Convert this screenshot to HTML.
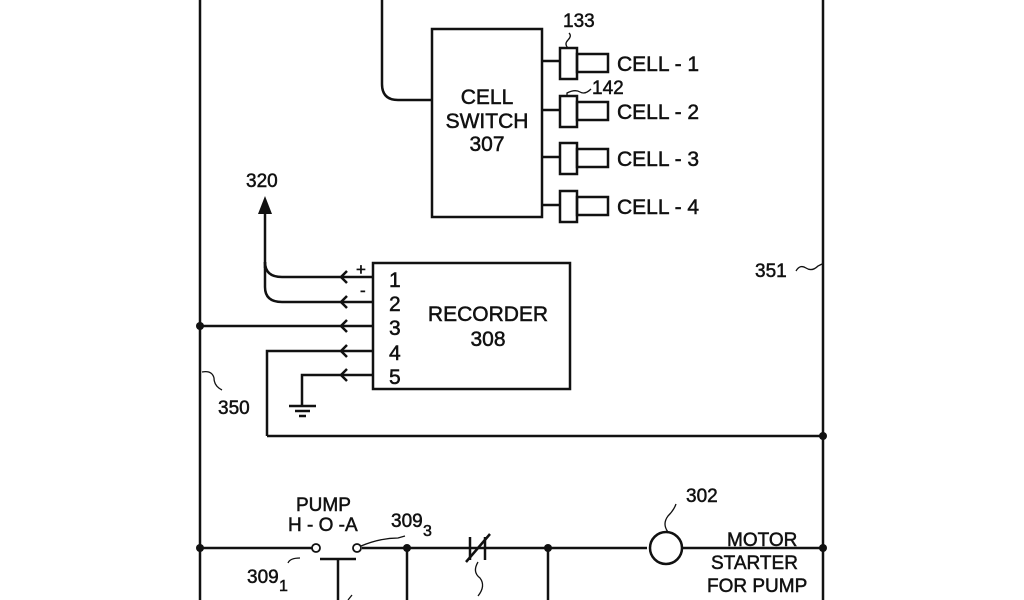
<!DOCTYPE html>
<html><head><meta charset="utf-8"><style>
html,body{margin:0;padding:0;background:#fff;}
svg{display:block;}
text{font-family:"Liberation Sans",Arial,sans-serif;fill:#111;stroke:#111;stroke-width:0.5;}
</style></head><body>
<svg width="1024" height="600" viewBox="0 0 1024 600" xmlns="http://www.w3.org/2000/svg">
<g stroke="#111" stroke-width="2.5" fill="none" stroke-linecap="butt">
<line x1="200" y1="0" x2="200" y2="600"/>
<line x1="823" y1="0" x2="823" y2="600"/>
<path d="M382 0 V84 Q382 100 398 100 H432"/>
<rect x="432" y="29" width="110" height="188"/>
<g>
<line x1="542" y1="61" x2="560" y2="61"/><rect x="560" y="48" width="17" height="31"/><rect x="577" y="54" width="31" height="18"/>
<line x1="542" y1="110" x2="560" y2="110"/><rect x="560" y="96" width="17" height="31"/><rect x="577" y="102" width="31" height="18"/>
<line x1="542" y1="157" x2="560" y2="157"/><rect x="560" y="143" width="17" height="31"/><rect x="577" y="149" width="31" height="18"/>
<line x1="542" y1="205" x2="560" y2="205"/><rect x="560" y="191" width="17" height="31"/><rect x="577" y="197" width="31" height="18"/>
</g>
<path d="M568 48 Q564 44 568 40 Q572 36 569 33" stroke-width="1.3"/>
<path d="M567 97 V93 Q575 89 580 92 Q585 95 591 89" stroke-width="1.3"/>
<line x1="265" y1="212" x2="265" y2="268"/>
<path d="M265 262 Q265 277 282 277 H352"/>
<path d="M265 262 V287 Q265 302 282 302 H352"/>
<rect x="373" y="263" width="197" height="126"/>
<line x1="352" y1="277" x2="373" y2="277"/>
<line x1="352" y1="302" x2="373" y2="302"/>
<line x1="200" y1="326" x2="373" y2="326"/>
<path d="M267 436 V351 H373"/>
<path d="M302 406 V375 H373"/>
<path d="M347 271 L341 277 L347 283 M347 296 L341 302 L347 308 M347 320 L341 326 L347 332 M347 345 L341 351 L347 357 M347 369 L341 375 L347 381"/>
<line x1="289" y1="406" x2="316" y2="406"/>
<line x1="295" y1="411" x2="310" y2="411"/>
<line x1="299" y1="416" x2="306" y2="416"/>
<line x1="267" y1="436" x2="823" y2="436"/>
<path d="M202 372 Q212 370 214 378 Q214 386 222 390" stroke-width="1.3"/>
<path d="M796 271 Q800 264 806 268 Q812 272 818 266 L822 264" stroke-width="1.3"/>
<line x1="200" y1="548" x2="312" y2="548"/>
<line x1="362" y1="548" x2="647" y2="548"/>
<line x1="681" y1="548" x2="823" y2="548"/>
<circle cx="316" cy="548" r="4" stroke-width="1.8"/>
<circle cx="357" cy="548" r="4" stroke-width="1.8"/>
<path d="M361 546 Q380 538 398 538 L405 536" stroke-width="1.3"/>
<path d="M300 558 Q290 558 288 563" stroke-width="1.3"/>
<line x1="320" y1="559" x2="356" y2="559"/>
<line x1="338" y1="559" x2="338" y2="600"/>
<path d="M348 600 L352 595" stroke-width="1.3"/>
<line x1="407" y1="548" x2="407" y2="600"/>
<line x1="548" y1="548" x2="548" y2="600"/>
<line x1="470" y1="537" x2="470" y2="560"/>
<line x1="485" y1="537" x2="485" y2="560"/>
<line x1="466" y1="562" x2="490" y2="534"/>
<path d="M478 562 Q472 572 480 578 Q486 586 478 596" stroke-width="1.3"/>
<circle cx="666" cy="548" r="16"/>
<path d="M668 532 Q662 524 668 516 Q674 510 676 504" stroke-width="1.3"/>
</g>
<polygon points="265,196 258,214 272,214" fill="#111"/>
<g fill="#111">
<circle cx="200" cy="326" r="4"/>
<circle cx="823" cy="436" r="4"/>
<circle cx="200" cy="548" r="4"/>
<circle cx="407" cy="548" r="4"/>
<circle cx="548" cy="548" r="4"/>
<circle cx="823" cy="548" r="4"/>
</g>
<g font-size="21">
<text x="487" y="104" text-anchor="middle">CELL</text>
<text x="487" y="128" text-anchor="middle">SWITCH</text>
<text x="487" y="151" text-anchor="middle">307</text>
<text x="617" y="71">CELL - 1</text>
<text x="617" y="119">CELL - 2</text>
<text x="617" y="166">CELL - 3</text>
<text x="617" y="214">CELL - 4</text>
<text x="488" y="321" text-anchor="middle">RECORDER</text>
<text x="488" y="346" text-anchor="middle">308</text>
<text x="389" y="287">1</text>
<text x="389" y="311">2</text>
<text x="389" y="335">3</text>
<text x="389" y="360">4</text>
<text x="389" y="384">5</text>
</g>
<g font-size="19">
<text x="563" y="27">133</text>
<text x="592" y="94">142</text>
<text x="246" y="187">320</text>
<text x="218" y="414">350</text>
<text x="755" y="277">351</text>
<text x="296" y="511">PUMP</text>
<text x="288" y="531">H - O -A</text>
<text x="391" y="527">309</text><text x="423" y="536" font-size="16">3</text>
<text x="247" y="583">309</text><text x="279" y="591" font-size="16">1</text>
<text x="686" y="502">302</text>
<text x="727" y="546">MOTOR</text>
<text x="711" y="569">STARTER</text>
<text x="707" y="592">FOR PUMP</text>
</g>
<g font-size="17"><text x="356" y="275">+</text><text x="360" y="296">-</text></g>
</svg>
</body></html>
